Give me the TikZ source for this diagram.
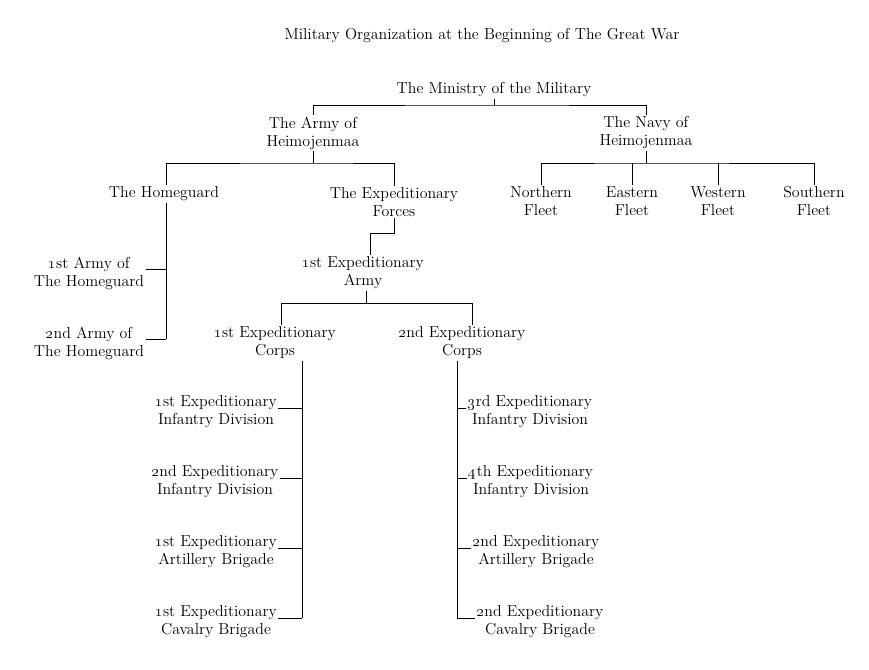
\documentclass[tikz,border=0pt]{standalone}
\usepackage{tikz}
\usetikzlibrary{positioning}
\newcommand{\os}[1]{\oldstylenums{#1}}

\begin{document}
\begin{tikzpicture}[x=0.75pt,y=-0.75pt,
    unit/.style={font=\fontsize{11.9}{13.5}\selectfont, align=center, inner sep=1pt},
    link/.style={line width=0.65pt}]
            \useasboundingbox (0,0) rectangle (869,670);
            %Title
            \node[unit] (title) at (482,36) {Military Organization at the Beginning of The Great War};
            %Units
            \node[unit] (min) at (494,90) {The Ministry of the Military};
            \node[unit] (army) at (313,133) {The Army of\\Heimojenmaa};
            \node[unit] (navy) at (646,133) {The Navy of\\Heimojenmaa};
            \node[unit] (hg) at (164,194) {The Homeguard};
            \node[unit] (forces) at (394,202) {The Expeditionary\\Forces};
            \node[unit] (nf) at (541,201) {Northern\\Fleet};
            \node[unit] (ef) at (632,201) {Eastern\\Fleet};
            \node[unit] (wf) at (718,201) {Western\\Fleet};
            \node[unit] (sf) at (814,201) {Southern\\Fleet};
            \node[unit] (hga) at (89,273) {\os{1}st Army of\\The Homeguard};
            \node[unit] (hgb) at (89,343) {\os{2}nd Army of\\The Homeguard};
            \node[unit] (xarmy) at (363,273) {\os{1}st Expeditionary\\Army};
            \node[unit] (corpsa) at (275,343) {\os{1}st Expeditionary\\Corps};
            \node[unit] (corpsb) at (462,343) {\os{2}nd Expeditionary\\Corps};
            \node[unit] (ida) at (216,412) {\os{1}st Expeditionary\\Infantry Division};
            \node[unit] (idb) at (215,482) {\os{2}nd Expeditionary\\Infantry Division};
            \node[unit] (aba) at (216,552) {\os{1}st Expeditionary\\Artillery Brigade};
            \node[unit] (cba) at (216,622) {\os{1}st Expeditionary\\Cavalry Brigade};
            \node[unit] (idc) at (530,412) {\os{3}rd Expeditionary\\Infantry Division};
            \node[unit] (idd) at (531,482) {\os{4}th Expeditionary\\Infantry Division};
            \node[unit] (abb) at (536,552) {\os{2}nd Expeditionary\\Artillery Brigade};
            \node[unit] (cbb) at (540,622) {\os{2}nd Expeditionary\\Cavalry Brigade};
            %Junctions
            \coordinate (jmin) at (494,105);
            \coordinate (jarmy) at (313,163);
            \coordinate (jnavy) at (646,163);
            \coordinate (spineh) at (166,163);
            \coordinate (kforces) at (370,233);
            \coordinate (jxarmy) at (366,303);
            \coordinate (jcorpsa) at (281,303);
            \coordinate (jcorpsb) at (472,303);
            \coordinate (spinea) at (302,361);
            \coordinate (spineb) at (457,361);
            %Ministry
            \draw[link] (min.south) -- (min.south |- jmin);
            \draw[link] (army.north) |- (jmin) -| (navy.north);
            %Army
            \draw[link] (army.south) -- (jarmy);
            \draw[link] (spineh) -- (jarmy) -| (forces.north);
            \draw[link] (spineh) -- (spineh |- hg.north);
            \draw[link] (spineh |- hg.south) -- ([yshift=3pt]hgb.east -| spineh);
            \foreach \u in {hga,hgb}
                \draw[link] ([yshift=3pt]\u.east) -- ([yshift=3pt]\u.east -| spineh);
            %Navy
            \draw[link] (navy.south) -- (jnavy);
            \draw[link] (nf.north) |- (jnavy) -| (sf.north);
            \draw[link] (ef.north) -- (ef.north |- jnavy);
            \draw[link] (wf.north) -- (wf.north |- jnavy);
            %Expeditionary Forces
            \draw[link] (forces.south) |- (kforces) -- (kforces |- xarmy.north);
            \draw[link] (xarmy.south -| jxarmy) -- (jxarmy);
            \draw[link] (jcorpsa |- corpsa.north) -- (jcorpsa) -- (jcorpsb) -- (jcorpsb |- corpsb.north);
            %Corps
            \draw[link] (spinea) -- ([yshift=3pt]cba.east -| spinea);
            \foreach \u in {ida,idb,aba,cba}
                \draw[link] ([yshift=3pt]\u.east) -- ([yshift=3pt]\u.east -| spinea);
            \draw[link] (spineb) -- ([yshift=3pt]cbb.west -| spineb);
            \foreach \u in {idc,idd,abb,cbb}
                \draw[link] ([yshift=3pt]\u.west) -- ([yshift=3pt]\u.west -| spineb);
\end{tikzpicture}
\end{document}
